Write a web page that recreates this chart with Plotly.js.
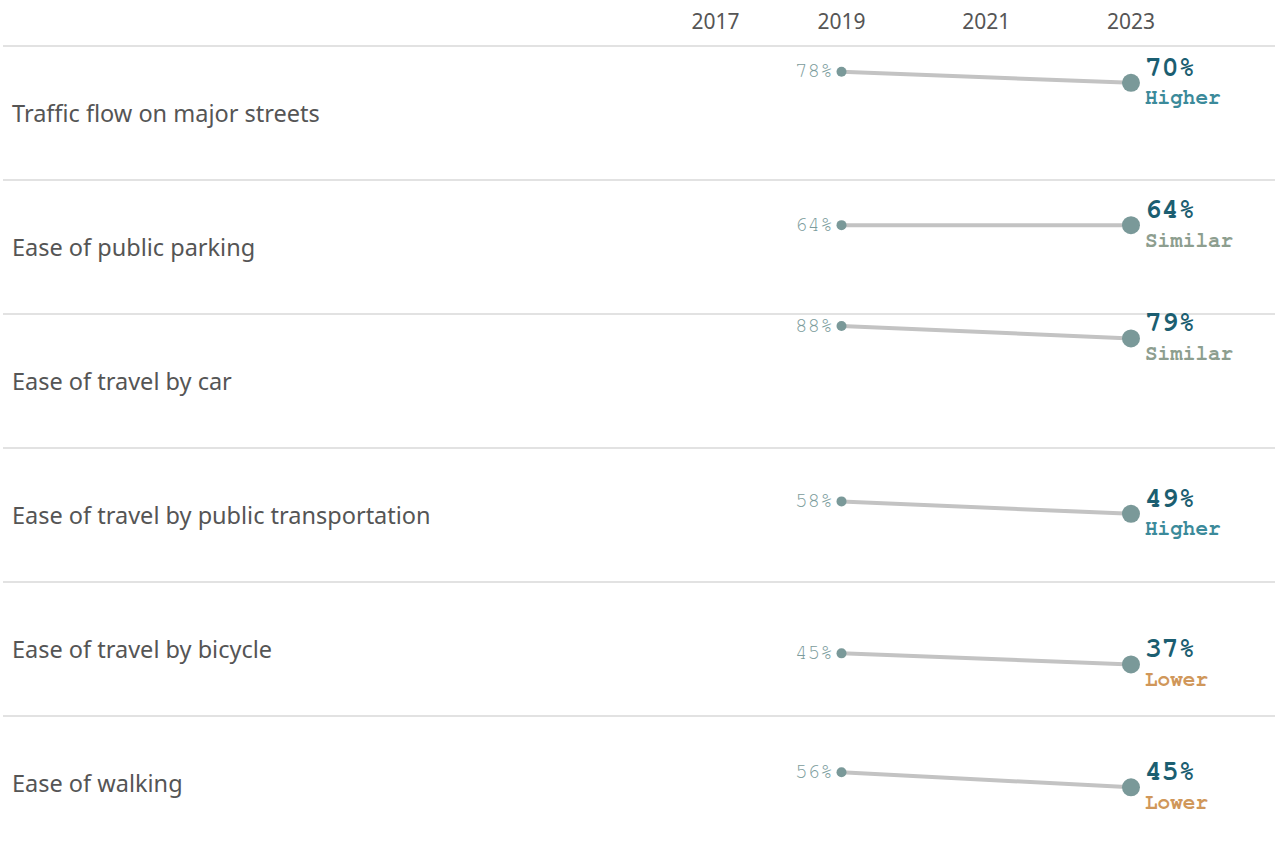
<!DOCTYPE html>
<html>
<head>
<meta charset="utf-8">
<script src="https://cdn.plot.ly/plotly-3.0.1.min.js"></script>
<style>
  html, body { margin: 0; padding: 0; background: #ffffff; }
  #chart { width: 1275px; height: 844px; }
</style>
</head>
<body>
<div id="chart"></div>
<script>
// ---- Data ----
const categories = [
  "Traffic flow on major streets",
  "Ease of public parking",
  "Ease of travel by car",
  "Ease of travel by public transportation",
  "Ease of travel by bicycle",
  "Ease of walking"
];
const years = [2019, 2023];
const values2019 = [78, 64, 88, 58, 45, 56];
const values2023 = [70, 64, 79, 49, 37, 45];
const comparison = ["Higher", "Similar", "Similar", "Higher", "Lower", "Lower"];
const yearTickLabels = ["2017", "2019", "2021", "2023"];

// ---- Styling ----
const W = 1275, H = 844, headerH = 46, rowH = 134;
const compColor = { Higher: "#3b8a9a", Similar: "#8d9e8f", Lower: "#d0975a" };
const monoFont = "Nimbus Mono PS, Nimbus Mono L, FreeMono, Courier New, Courier, Liberation Mono, monospace";
const yTop = 96.7, yBot = -0.4;

const traces = [];
const annotations = [];
const shapes = [];
const layout = {
  width: W, height: H,
  margin: { l: 0, r: 0, t: 0, b: 0 },
  paper_bgcolor: "#ffffff",
  plot_bgcolor: "rgba(0,0,0,0)",
  showlegend: false,
  hovermode: false,
  xaxis: {
    domain: [688 / W, 1],
    range: [2016.879, 2024.99],
    anchor: "y",
    side: "top",
    tickmode: "array",
    tickvals: [2017.26, 2019, 2021, 2023],
    ticktext: yearTickLabels,
    ticks: "outside",
    ticklen: 8,
    tickcolor: "rgba(0,0,0,0)",
    showgrid: false,
    zeroline: false,
    showline: false,
    tickfont: { family: "Noto Sans, sans-serif", size: 21, color: "#555555" },
    fixedrange: true
  }
};

categories.forEach((cat, i) => {
  const top = headerH + rowH * i;
  const bot = Math.min(top + rowH, H);
  const axName = i === 0 ? "yaxis" : "yaxis" + (i + 1);
  const axRef = i === 0 ? "y" : "y" + (i + 1);
  const yMin = yTop - (yTop - yBot) * (bot - top) / rowH;
  layout[axName] = {
    domain: [1 - bot / H, 1 - top / H],
    range: [yMin, yTop],
    anchor: "x",
    visible: false,
    showgrid: false,
    zeroline: false,
    fixedrange: true
  };

  const vals = [values2019[i], values2023[i]];
  traces.push({
    type: "scatter",
    mode: "lines+markers",
    x: years,
    y: vals,
    xaxis: "x",
    yaxis: axRef,
    line: { color: "#c3c3c3", width: 4 },
    marker: { color: "#7a9999", size: [10, 18], opacity: 1, line: { width: 0 } },
    cliponaxis: false
  });

  // row separator
  shapes.push({
    type: "line", xref: "paper", yref: "paper",
    x0: 3 / W, x1: 1, y0: 1 - top / H, y1: 1 - top / H,
    line: { color: "#d9d9d9", width: 1.5 }
  });

  // row label
  annotations.push({
    xref: "paper", yref: "paper",
    x: 10 / W, y: 1 - (top + rowH / 2) / H,
    xanchor: "left", yanchor: "middle",
    text: cat, showarrow: false,
    font: { family: "Noto Sans, sans-serif", size: 23.5, color: "#555555" }
  });

  // 2019 value label
  annotations.push({
    xref: "x", yref: axRef,
    x: years[0], y: values2019[i],
    xanchor: "right", yanchor: "middle",
    xshift: -6, yshift: 1,
    text: values2019[i] + "%", showarrow: false,
    font: { family: monoFont, size: 21, color: "#7b9b9b" }
  });

  // 2023 value label
  annotations.push({
    xref: "x", yref: axRef,
    x: years[1], y: values2023[i],
    xanchor: "left", yanchor: "middle",
    xshift: 12, yshift: 15,
    text: "<b>" + values2023[i] + "%</b>", showarrow: false,
    font: { family: monoFont, size: 28, color: "#1b5e71" }
  });

  // comparison label
  annotations.push({
    xref: "x", yref: axRef,
    x: years[1], y: values2023[i],
    xanchor: "left", yanchor: "middle",
    xshift: 12, yshift: -15,
    text: "<b>" + comparison[i] + "</b>", showarrow: false,
    font: { family: monoFont, size: 21, color: compColor[comparison[i]] }
  });
});

layout.annotations = annotations;
layout.shapes = shapes;

Plotly.newPlot("chart", traces, layout, { displayModeBar: false, staticPlot: true });
</script>
</body>
</html>
